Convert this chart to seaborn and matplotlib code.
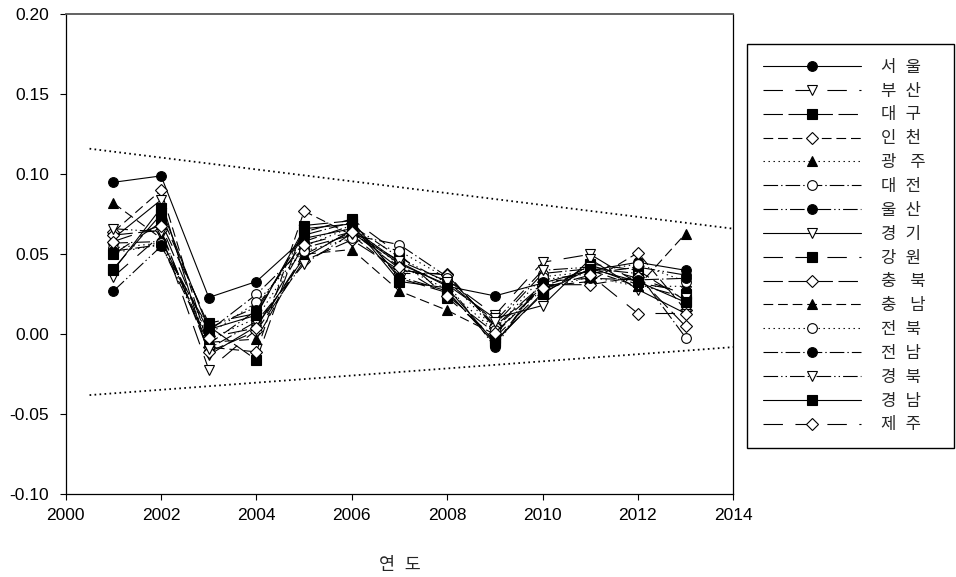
import pandas as pd
import matplotlib
matplotlib.use('Agg')
import matplotlib.pyplot as plt
import seaborn as sns
from matplotlib.lines import Line2D
from matplotlib.ticker import FormatStrFormatter

years = [2001, 2002, 2003, 2004, 2005, 2006, 2007, 2008, 2009, 2010, 2011, 2012, 2013]

# 지역별 값 (그림에서 읽은 근사값)
seoul    = [0.095, 0.099, 0.023, 0.033, 0.060, 0.066, 0.045, 0.030, 0.024, 0.032, 0.040, 0.045, 0.040]
busan    = [0.036, 0.062, -0.022, 0.003, 0.050, 0.064, 0.041, 0.034, 0.012, 0.045, 0.050, 0.032, 0.027]
daegu    = [0.041, 0.075, 0.005, -0.016, 0.068, 0.071, 0.035, 0.026, -0.004, 0.025, 0.044, 0.040, 0.021]
incheon  = [0.064, 0.090, -0.008, -0.011, 0.077, 0.062, 0.038, 0.038, 0.004, 0.030, 0.033, 0.051, 0.015]
gwangju  = [0.051, 0.056, -0.003, 0.010, 0.055, 0.067, 0.043, 0.028, 0.002, 0.028, 0.036, 0.030, 0.030]
daejeon  = [0.057, 0.058, 0.002, 0.025, 0.054, 0.062, 0.056, 0.036, 0.006, 0.038, 0.041, 0.038, -0.002]
ulsan    = [0.027, 0.055, 0.004, 0.017, 0.058, 0.068, 0.048, 0.032, -0.008, 0.034, 0.038, 0.042, 0.037]
gyeonggi = [0.060, 0.084, -0.013, 0.005, 0.048, 0.065, 0.044, 0.031, 0.010, 0.018, 0.047, 0.028, 0.013]
gangwon  = [0.050, 0.070, 0.007, 0.013, 0.064, 0.072, 0.050, 0.023, -0.002, 0.027, 0.043, 0.035, 0.025]
chungbuk = [0.062, 0.065, -0.011, 0.002, 0.046, 0.059, 0.040, 0.037, 0.005, 0.031, 0.031, 0.036, 0.005]
chungnam = [0.082, 0.060, -0.005, -0.003, 0.050, 0.053, 0.027, 0.015, 0.000, 0.030, 0.040, 0.030, 0.063]
jeonbuk  = [0.054, 0.057, 0.000, 0.020, 0.052, 0.060, 0.052, 0.035, 0.003, 0.036, 0.039, 0.044, 0.033]
jeonnam  = [0.052, 0.056, -0.006, 0.015, 0.062, 0.070, 0.036, 0.027, -0.006, 0.033, 0.035, 0.034, 0.035]
gyeongbuk = [0.066, 0.064, -0.009, 0.008, 0.044, 0.063, 0.046, 0.033, 0.008, 0.040, 0.042, 0.031, 0.023]
gyeongnam = [0.040, 0.079, 0.003, 0.012, 0.066, 0.069, 0.033, 0.029, -0.005, 0.026, 0.041, 0.033, 0.020]
jeju     = [0.058, 0.068, -0.002, 0.004, 0.056, 0.064, 0.042, 0.024, 0.001, 0.029, 0.037, 0.013, 0.013]

labels = ['서  울', '부  산', '대  구', '인  천', '광   주', '대  전', '울  산', '경  기',
          '강  원', '충   북', '충   남', '전  북', '전  남', '경  북', '경  남', '제  주']
series = [seoul, busan, daegu, incheon, gwangju, daejeon, ulsan, gyeonggi,
          gangwon, chungbuk, chungnam, jeonbuk, jeonnam, gyeongbuk, gyeongnam, jeju]

# 점선 추세선 (양 끝값)
trend_x = [2000.5, 2014]
upper_trend = [0.116, 0.066]
lower_trend = [-0.038, -0.008]

# 선 모양 / 마커 (SigmaPlot 기본 순환)
line_cycle = ['-', (0, (14, 9)), (0, (14, 4)), (0, (7, 3.5)), (0, (1, 2.6)),
              (0, (10.5, 2.2, 1, 2.2)), (0, (10.5, 2.2, 1, 2.2, 1, 2.2))]
marker_cycle = [('o', True), ('v', False), ('s', True), ('D', False), ('^', True), ('o', False)]

sns.set_style('white')
plt.rcParams['font.family'] = ['Liberation Sans', 'Noto Sans CJK KR', 'DejaVu Sans']
plt.rcParams['lines.scale_dashes'] = False

fig = plt.figure(figsize=(9.56, 5.77), dpi=100)
ax = fig.add_axes([65.7/956, 1-494.3/577, (733.3-65.7)/956, (494.3-14.3)/577])

handles = []
for i, (lab, vals) in enumerate(zip(labels, series)):
    ls = line_cycle[i % 7]
    mk, filled = marker_cycle[i % 6]
    ms = 6.5 if mk == 'D' else 7
    style = dict(color='black', linewidth=0.8, linestyle=ls, marker=mk, markersize=ms,
                 markerfacecolor='black' if filled else 'white',
                 markeredgecolor='black', markeredgewidth=0.8)
    df = pd.DataFrame({'year': years, 'value': vals})
    sns.lineplot(data=df, x='year', y='value', ax=ax, legend=False, **style)
    handles.append(Line2D([], [], label=lab, **style))

sns.lineplot(x=trend_x, y=upper_trend, ax=ax, color='black', linewidth=1.3, linestyle=(0, (1.2, 2.4)))
sns.lineplot(x=trend_x, y=lower_trend, ax=ax, color='black', linewidth=1.3, linestyle=(0, (1.2, 2.4)))

ax.set_xlim(2000, 2014)
ax.set_ylim(-0.10, 0.20)
ax.set_xticks(range(2000, 2015, 2))
ax.set_yticks([-0.10, -0.05, 0.00, 0.05, 0.10, 0.15, 0.20])
ax.yaxis.set_major_formatter(FormatStrFormatter('%.2f'))
ax.tick_params(axis='both', which='major', direction='out', length=4.6, width=0.8,
               labelsize=12.5, colors='black', left=True, bottom=True)
ax.tick_params(axis='y', pad=7.5)
ax.tick_params(axis='x', pad=5)
for side in ['left', 'bottom', 'right']:
    ax.spines[side].set_color('black')
    ax.spines[side].set_linewidth(0.9)
ax.spines['top'].set_color('#555555')
ax.spines['top'].set_linewidth(1.3)

ax.set_ylabel('')
ax.set_xlabel('연  도', fontsize=12.5, labelpad=25)

leg = fig.legend(handles=handles, loc='upper left',
                 bbox_to_anchor=(747/956, 1-44/577, (954-747)/956, 0.0),
                 bbox_transform=fig.transFigure, mode='expand', borderaxespad=0,
                 fontsize=12, handlelength=5.9, handletextpad=1.2, borderpad=0.95,
                 labelspacing=0.53, fancybox=False, framealpha=1, edgecolor='black')
leg.get_frame().set_linewidth(1.0)

plt.savefig('out.png', dpi=100)
